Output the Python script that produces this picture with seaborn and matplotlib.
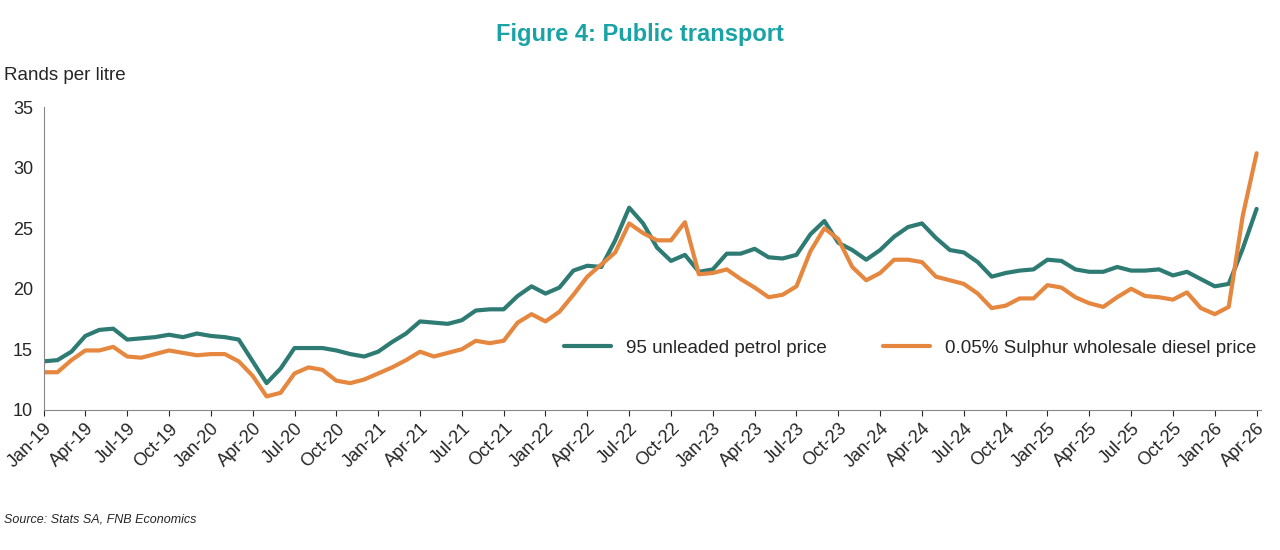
import matplotlib
matplotlib.use("Agg")
import matplotlib.pyplot as plt
import seaborn as sns
import pandas as pd
import numpy as np

months = pd.date_range("2019-01-01", "2026-04-01", freq="MS")

petrol = [14.0, 14.1, 14.8, 16.1, 16.6, 16.7, 15.8, 15.9, 16.0, 16.2, 16.0, 16.3,
          16.1, 16.0, 15.8, 14.0, 12.2, 13.4, 15.1, 15.1, 15.1, 14.9, 14.6, 14.4,
          14.8, 15.6, 16.3, 17.3, 17.2, 17.1, 17.4, 18.2, 18.3, 18.3, 19.4, 20.2,
          19.6, 20.1, 21.5, 21.9, 21.8, 24.0, 26.7, 25.4, 23.4, 22.3, 22.8, 21.4,
          21.6, 22.9, 22.9, 23.3, 22.6, 22.5, 22.8, 24.5, 25.6, 23.8, 23.2, 22.4,
          23.2, 24.3, 25.1, 25.4, 24.2, 23.2, 23.0, 22.2, 21.0, 21.3, 21.5, 21.6,
          22.4, 22.3, 21.6, 21.4, 21.4, 21.8, 21.5, 21.5, 21.6, 21.1, 21.4, 20.8,
          20.2, 20.4, 23.3, 26.6]
diesel = [13.1, 13.1, 14.1, 14.9, 14.9, 15.2, 14.4, 14.3, 14.6, 14.9, 14.7, 14.5,
          14.6, 14.6, 14.0, 12.8, 11.1, 11.4, 13.0, 13.5, 13.3, 12.4, 12.2, 12.5,
          13.0, 13.5, 14.1, 14.8, 14.4, 14.7, 15.0, 15.7, 15.5, 15.7, 17.2, 17.9,
          17.3, 18.1, 19.5, 21.0, 22.0, 23.0, 25.4, 24.6, 24.0, 24.0, 25.5, 21.2,
          21.3, 21.6, 20.8, 20.1, 19.3, 19.5, 20.2, 23.1, 25.0, 24.1, 21.8, 20.7,
          21.3, 22.4, 22.4, 22.2, 21.0, 20.7, 20.4, 19.6, 18.4, 18.6, 19.2, 19.2,
          20.3, 20.1, 19.3, 18.8, 18.5, 19.3, 20.0, 19.4, 19.3, 19.1, 19.7, 18.4,
          17.9, 18.5, 26.0, 31.2]

labels = [m.strftime("%b-%y") for m in months]
x = np.arange(len(months))

sns.set_style("white")
plt.rcParams['font.family'] = ['Liberation Sans', 'DejaVu Sans']

fig, ax = plt.subplots(figsize=(12.8, 5.5), dpi=100)
fig.subplots_adjust(left=0.034, right=0.985, top=0.805, bottom=0.255)

sns.lineplot(x=x, y=petrol, ax=ax, color="#2E7B74", linewidth=3,
             label="95 unleaded petrol price")
sns.lineplot(x=x, y=diesel, ax=ax, color="#E6873F", linewidth=3,
             label="0.05% Sulphur wholesale diesel price")

ax.set_ylim(10, 35)
ax.set_yticks([10, 15, 20, 25, 30, 35])
ax.set_xlim(0, len(x) - 0.7)
ax.set_xticks(x[::3])
ax.set_xticklabels(labels[::3], rotation=45, ha="right", rotation_mode="anchor")
ax.tick_params(axis="both", labelsize=13, length=4, direction="out", bottom=True, left=False)
for s in ["top", "right"]:
    ax.spines[s].set_visible(False)
ax.spines["left"].set_color("#888888")
ax.spines["bottom"].set_color("#888888")

ax.legend(loc="lower right", bbox_to_anchor=(1.01, 0.12), ncol=2, frameon=False,
          fontsize=13.5, columnspacing=3, handlelength=2.5)

fig.text(0.5, 0.925, "Figure 4: Public transport", ha="center", fontsize=17,
         fontweight="bold", color="#1AA3A6")
fig.text(0.003, 0.855, "Rands per litre", fontsize=13.5)
fig.text(0.003, 0.05, "Source: Stats SA, FNB Economics", fontsize=9, style="italic")

fig.savefig("out.png")
